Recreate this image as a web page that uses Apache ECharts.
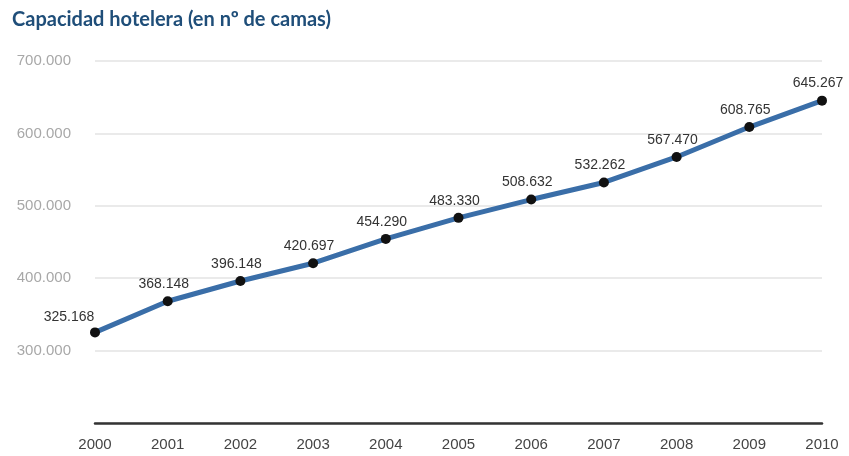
<!DOCTYPE html>
<html lang="es">
<head>
    <meta charset="UTF-8">
    <title>Capacidad hotelera</title>
    <script src="https://cdn.jsdelivr.net/npm/echarts@6/dist/echarts.min.js"></script>
    <style>
        body { margin: 0; background: #fff; }
    </style>
</head>
<body>
<div id="main" style="width: 849px;height:456px;"></div>
<script type="text/javascript">
    // datos
    let years = ['2000', '2001', '2002', '2003', '2004', '2005', '2006', '2007', '2008', '2009', '2010'];
    let camas = [325168, 368148, 396148, 420697, 454290, 483330, 508632, 532262, 567470, 608765, 645267];

    function fmt(v) {
        return String(v).replace(/\B(?=(\d{3})+(?!\d))/g, '.');
    }

    let seriesData = camas.map(function (v, i) {
        let item = { value: v };
        if (i === 0) {
            item.label = { offset: [-26, 2] };
        }
        return item;
    });

    let option = {
        backgroundColor: '#fff',
        animation: false,
        title: {
            text: 'Capacidad hotelera (en nº de camas)',
            left: 7,
            top: 5,
            textStyle: {
                fontFamily: 'Lato',
                fontWeight: 'bold',
                fontSize: 20,
                color: '#1f4e79'
            }
        },
        grid: {
            left: 95,
            right: 27,
            top: 61,
            bottom: 33
        },
        xAxis: {
            type: 'category',
            boundaryGap: false,
            data: years,
            axisTick: { show: false },
            axisLine: { lineStyle: { color: '#333', width: 2.5 } },
            axisLabel: {
                color: '#444',
                fontFamily: 'Arial',
                fontSize: 15,
                margin: 14
            }
        },
        yAxis: {
            type: 'value',
            min: 200000,
            max: 700000,
            interval: 100000,
            axisLine: { show: false },
            axisTick: { show: false },
            splitLine: { lineStyle: { color: '#e3e3e3', width: 1.5 } },
            axisLabel: {
                color: '#a8a8a8',
                fontFamily: 'Arial',
                fontSize: 15,
                margin: 24,
                formatter: function (v) {
                    return v === 200000 ? '' : fmt(v);
                }
            }
        },
        series: [{
            type: 'line',
            data: seriesData,
            symbol: 'circle',
            symbolSize: 10,
            itemStyle: { color: '#111' },
            lineStyle: { color: '#3a6ea8', width: 5 },
            label: {
                show: true,
                position: 'top',
                offset: [-4, 0],
                distance: 5,
                color: '#333',
                fontFamily: 'Arial',
                fontSize: 14,
                formatter: function (p) { return fmt(p.value); }
            },
            z: 3
        }]
    };

    let myChart = echarts.init(document.getElementById('main'));
    myChart.setOption(option);
</script>
</body>
</html>
